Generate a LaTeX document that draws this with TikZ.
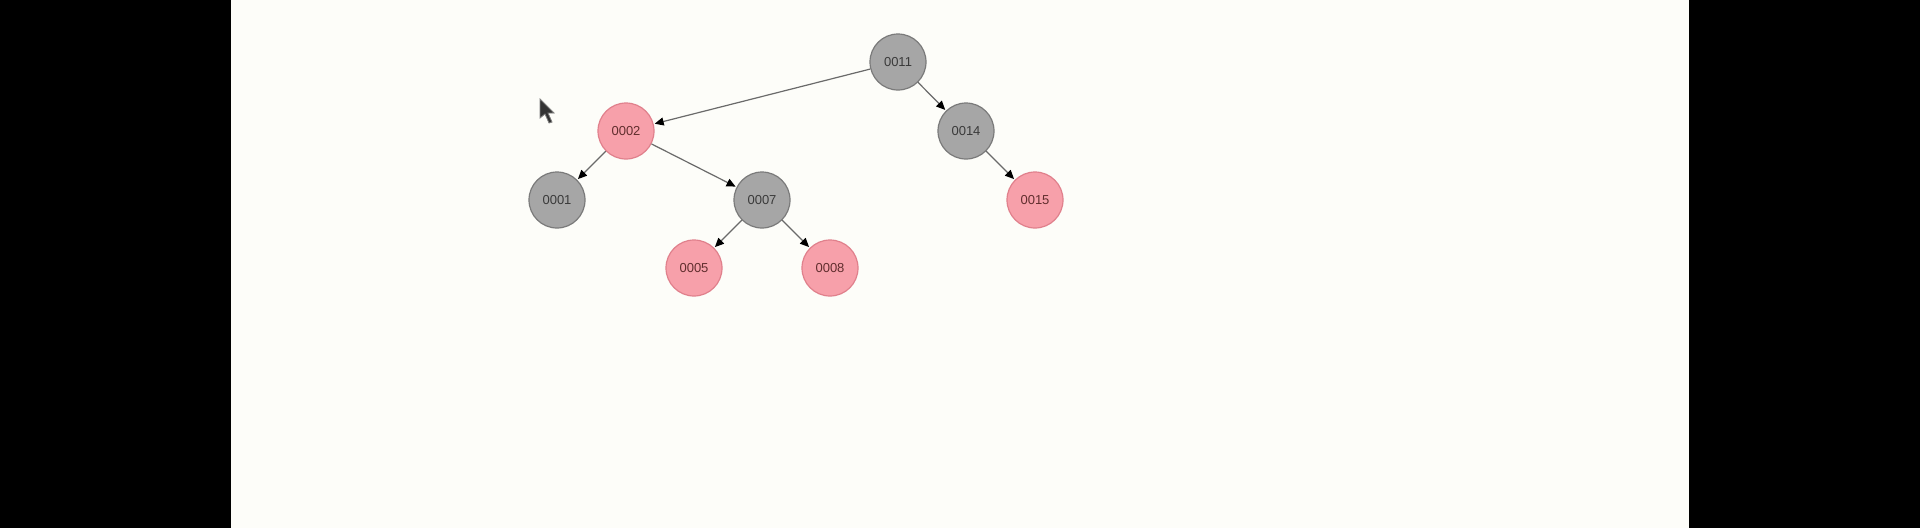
\documentclass[tikz,border=0pt]{standalone}
\usepackage{fontspec}
\setmainfont{Liberation Sans}
\usetikzlibrary{arrows.meta}
\definecolor{bgc}{HTML}{FDFDF9}
\definecolor{grayfill}{HTML}{A6A6A6}
\definecolor{grayedge}{HTML}{7A7A7A}
\definecolor{pinkfill}{HTML}{F7A0AA}
\definecolor{pinkedge}{HTML}{E0808C}
\definecolor{linec}{HTML}{6A6A6A}
\definecolor{txtc}{HTML}{3A3A3A}
\tikzset{
  blacknode/.style={circle, minimum size=56pt, inner sep=0pt, fill=grayfill, draw=grayedge, line width=1.2pt, font=\fontsize{13}{13}\selectfont, text=txtc},
  rednode/.style={circle, minimum size=56pt, inner sep=0pt, fill=pinkfill, draw=pinkedge, line width=1.2pt, font=\fontsize{13}{13}\selectfont, text=txtc!80!red},
  edge/.style={draw=linec, line width=1.2pt, -{Triangle[length=9pt,width=8pt,fill=black,color=black]}, shorten >=1pt}
}
\begin{document}
\begin{tikzpicture}[x=1pt,y=-1pt]
\useasboundingbox (0,0) rectangle (1920,528);
\fill[black] (0,0) rectangle (1920,528);
\fill[bgc] (231,0) rectangle (1689,528);
\node[blacknode] (n11) at (898,62) {0011};
\node[rednode] (n2) at (626,131) {0002};
\node[blacknode] (n14) at (966,131) {0014};
\node[blacknode] (n1) at (557,200) {0001};
\node[blacknode] (n7) at (762,200) {0007};
\node[rednode] (n15) at (1035,200) {0015};
\node[rednode] (n5) at (694,268) {0005};
\node[rednode] (n8) at (830,268) {0008};
\draw[edge] (n11) -- (n2);
\draw[edge] (n11) -- (n14);
\draw[edge] (n2) -- (n1);
\draw[edge] (n2) -- (n7);
\draw[edge] (n14) -- (n15);
\draw[edge] (n7) -- (n5);
\draw[edge] (n7) -- (n8);
% mouse cursor
\fill[black!80, draw=black!50, line width=0.8pt] (540,99) -- (540,118) -- (545,114) -- (549,123) -- (552,122) -- (548,113) -- (554,113) -- cycle;
\end{tikzpicture}
\end{document}
